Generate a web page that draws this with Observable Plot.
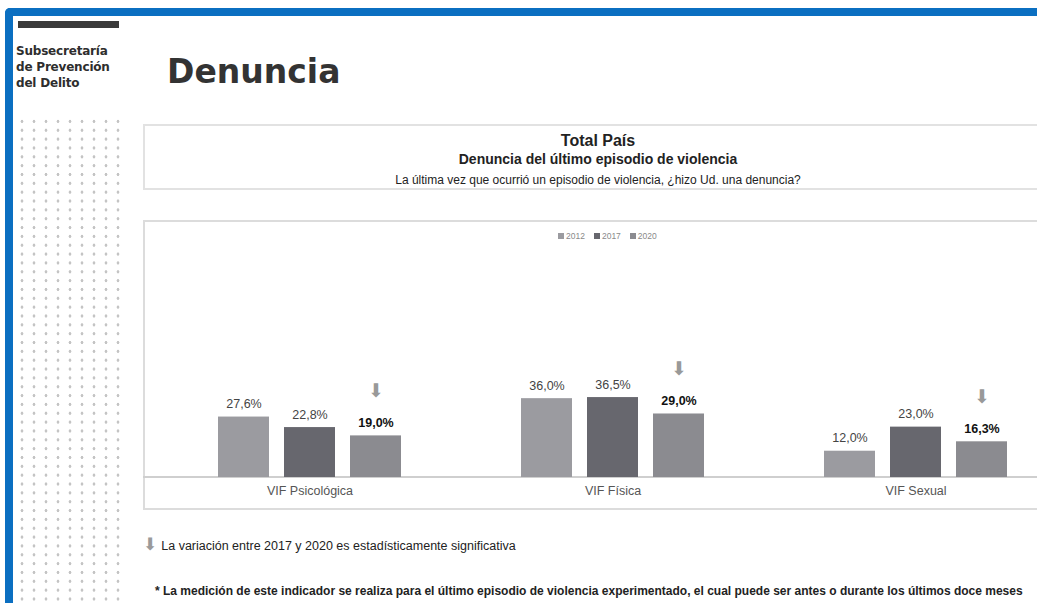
<!DOCTYPE html>
<html>
<head>
<meta charset="utf-8">
<script src="https://cdn.jsdelivr.net/npm/d3@7"></script>
<script src="https://cdn.jsdelivr.net/npm/@observablehq/plot@0.6"></script>
<style>
  html, body { margin: 0; padding: 0; }
  body { width: 1037px; height: 603px; overflow: hidden; position: relative; background: #fff; font-family: "Liberation Sans", Arial, sans-serif; }
  .abs { position: absolute; }
  #frame { left: 5px; top: 8px; width: 1100px; height: 700px; border-top: 8px solid #0b6fc1; border-left: 8px solid #0b6fc1; border-top-left-radius: 5px; }
  #darkbar { left: 18px; top: 21px; width: 101px; height: 7px; background: #3a3a3a; }
  #logo { left: 16px; top: 43px; }
  #logo div { font-family: "DejaVu Sans", sans-serif; font-weight: bold; font-size: 12px; line-height: 16px; color: #2e2e2e; white-space: nowrap; letter-spacing: -0.2px; }
  #dots { left: 16px; top: 117px; width: 108px; height: 490px; background-image: radial-gradient(circle, #c4c4c4 1.2px, rgba(255,255,255,0) 1.7px); background-size: 12px 8.85px; }
  #title { left: 167px; top: 52px; font-family: "DejaVu Sans", sans-serif; font-weight: bold; font-size: 33px; line-height: 40px; color: #333; }
  #header { left: 143px; top: 124px; width: 910px; height: 66px; border: 2px solid #e2e2e2; box-sizing: border-box; }
  .hline { left: 143px; width: 910px; text-align: center; white-space: nowrap; color: #222; }
  #chartbox { left: 143px; top: 220px; width: 910px; height: 290px; border: 2px solid #dcdcdc; box-sizing: border-box; }
  #baseline { left: 143px; top: 476px; width: 910px; height: 2px; background: #cfcfcf; }
  #plot { left: 143px; top: 220px; width: 925px; height: 290px; }
  #plot svg { max-width: none; }
  #legend { left: 558px; top: 231px; font-size: 8.5px; color: #8a8a8a; white-space: nowrap; line-height: 11px; }
  #legend span.sw { display: inline-block; width: 6px; height: 6px; margin-right: 2px; vertical-align: 0px; }
  #legend span.it { margin-right: 9px; }
  .note { white-space: nowrap; color: #222; }
</style>
</head>
<body>
<div id="frame" class="abs"></div>
<div id="darkbar" class="abs"></div>
<div id="logo" class="abs"><div>Subsecretaría</div><div>de Prevención</div><div>del Delito</div></div>
<div id="dots" class="abs"></div>
<div id="title" class="abs">Denuncia</div>

<div id="header" class="abs"></div>
<div class="abs hline" style="top:131px;font-weight:bold;font-size:16px;line-height:20px;">Total País</div>
<div class="abs hline" style="top:150px;font-weight:bold;font-size:14px;line-height:18px;">Denuncia del último episodio de violencia</div>
<div class="abs hline" style="top:172px;font-size:12px;line-height:16px;">La última vez que ocurrió un episodio de violencia, ¿hizo Ud. una denuncia?</div>

<div id="chartbox" class="abs"></div>
<div id="baseline" class="abs"></div>
<div id="legend" class="abs"></div>
<div id="plot" class="abs"></div>

<div class="abs note" style="left:143px;top:535px;font-size:12.5px;"><span style="font-family:'DejaVu Sans';color:#9a9a9a;font-size:17px;line-height:18px;">⬇</span><span style="margin-left:4px;">La variación entre 2017 y 2020 es estadísticamente significativa</span></div>
<div class="abs note" style="left:155px;top:584px;font-weight:bold;font-size:12px;">* La medición de este indicador se realiza para el último episodio de violencia experimentado, el cual puede ser antes o durante los últimos doce meses</div>

<script>
// ---- data ----
const categories = ["VIF Psicológica", "VIF Física", "VIF Sexual"];
const years = ["2012", "2017", "2020"];
const values2012 = [27.6, 36.0, 12.0];
const values2017 = [22.8, 36.5, 23.0];
const values2020 = [19.0, 29.0, 16.3];
const significant2020 = [true, true, true];
const yearColors = ["#9b9ba0", "#67676e", "#8b8b90"];

const seriesByYear = [values2012, values2017, values2020];
const data = [];
categories.forEach((c, i) => {
  years.forEach((y, j) => {
    data.push({category: c, year: y, value: seriesByYear[j][i], sig: j === 2 && significant2020[i]});
  });
});
const fmt = v => v.toFixed(1).replace(".", ",") + "%";

// legend
const legend = document.getElementById("legend");
years.forEach((y, j) => {
  const it = document.createElement("span");
  it.className = "it";
  it.innerHTML = `<span class="sw" style="background:${yearColors[j]}"></span>${y}`;
  legend.appendChild(it);
});

const chart = Plot.plot({
  width: 925,
  height: 290,
  marginLeft: 14,
  marginRight: 0,
  marginTop: 0,
  marginBottom: 33,
  style: {fontFamily: "Liberation Sans, Arial, sans-serif", fontSize: "12.5px", color: "#555", background: "transparent", overflow: "visible"},
  facet: {data: data, x: "category"},
  fx: {domain: categories, padding: 0, axis: "bottom", tickSize: 0, tickPadding: 9, label: null},
  x: {domain: years, paddingInner: 0.224, paddingOuter: 0.877, axis: null},
  y: {domain: [0, 50], range: [257, 147.5], axis: null},
  color: {domain: years, range: yearColors},
  marks: [
    Plot.barY(data, {x: "year", y: "value", fill: "year"}),
    Plot.text(data, {filter: d => d.year !== "2020", x: "year", y: "value", text: d => fmt(d.value), dy: -13, fill: "#444", fontSize: 12.5}),
    Plot.text(data, {filter: d => d.year === "2020", x: "year", y: "value", text: d => fmt(d.value), dy: -13, fill: "#111", fontSize: 12.5, fontWeight: "bold"}),
    Plot.text(data, {filter: d => d.sig, x: "year", y: "value", text: d => "⬇", dy: -45, fill: "#999", fontSize: 19, fontFamily: "DejaVu Sans"})
  ]
});
document.getElementById("plot").appendChild(chart);
</script>
</body>
</html>
